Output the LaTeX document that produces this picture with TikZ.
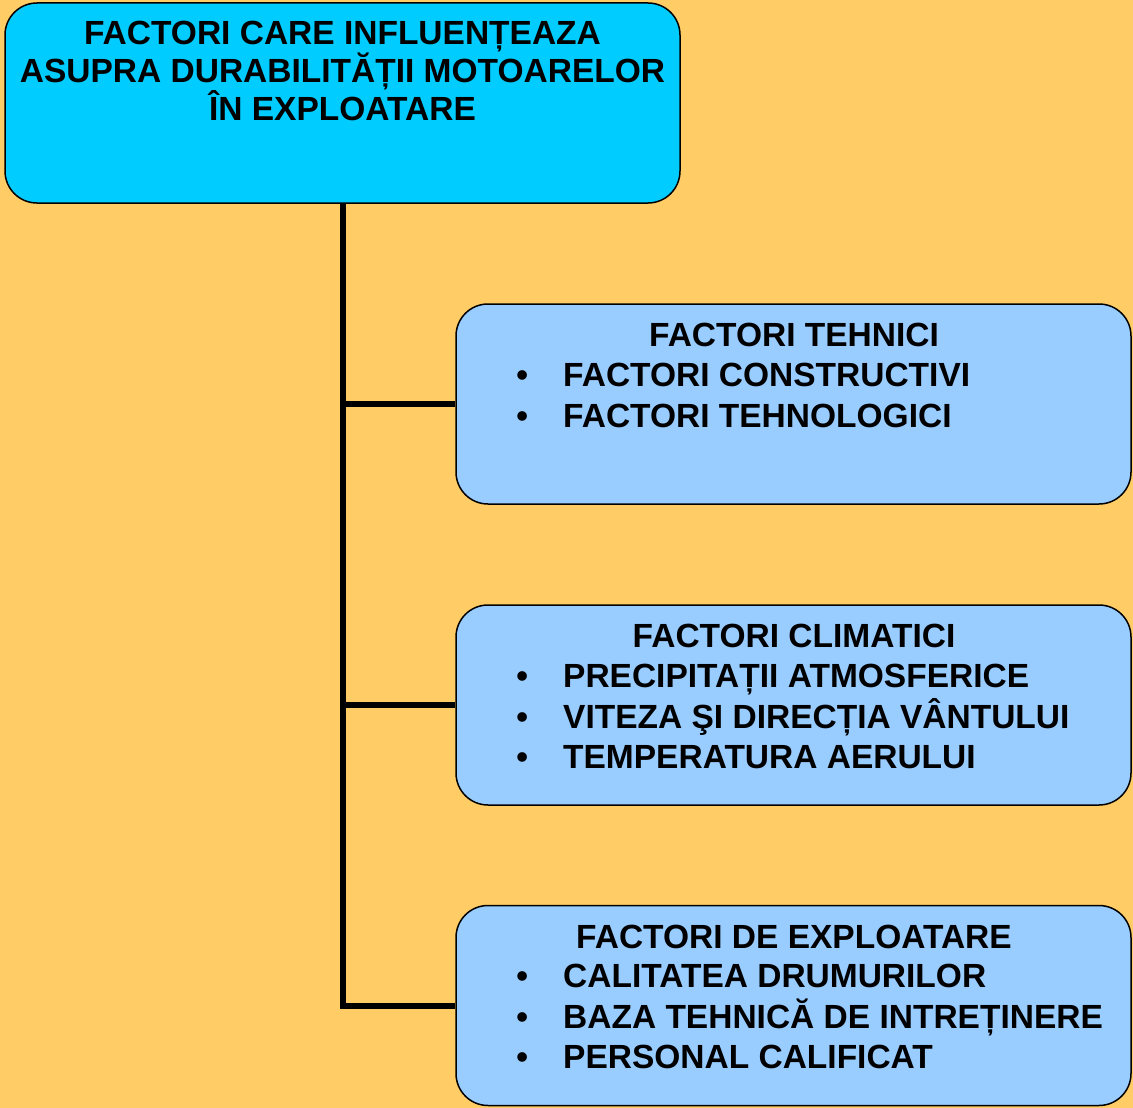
\documentclass[tikz,border=0pt]{standalone}
\usepackage{fontspec}
\setmainfont{Liberation Sans}
\usepackage{tikz}
\definecolor{bgorange}{HTML}{FFCC66}
\definecolor{titlecyan}{HTML}{00CCFF}
\definecolor{factorblue}{HTML}{99CCFF}
\newcommand{\bul}{\llap{\textbullet\hspace{35pt}}}

\begin{document}
\begin{tikzpicture}[x=1pt, y=-1pt,
  factorbox/.style={draw, line width=1.5pt, rounded corners=32pt, minimum width=675pt, minimum height=200pt, inner sep=0pt},
  bigtext/.style={font=\fontsize{33.5}{40.5}\selectfont\bfseries, inner sep=0pt},
  heading/.style={bigtext, anchor=base},
  itemlist/.style={bigtext, anchor=north west, align=left},
  branch/.style={line width=6pt},
]
  \fill[bgorange] (0,0) rectangle (1133,1108);

  % boxes
  \node[factorbox, fill=titlecyan] (title) at (342.5,103) {};
  \node[factorbox, fill=factorblue] (tehnic) at (793.5,404) {};
  \node[factorbox, fill=factorblue] (climatic) at (793.5,705) {};
  \node[factorbox, fill=factorblue] (exploat) at (793.5,1005.5) {};

  % texts
  \node[bigtext, anchor=north, align=center, font=\fontsize{33.5}{38}\selectfont\bfseries] (titletxt) at (342.5,21)
    {FACTORI CARE INFLUENȚEAZA\\ASUPRA DURABILITĂȚII MOTOARELOR\\ÎN EXPLOATARE};

  \node[heading] (tehnichead) at (794,346) {FACTORI TEHNICI};
  \node[itemlist] (tehniclist) at (563,363)
    {\bul FACTORI CONSTRUCTIVI\\\bul FACTORI TEHNOLOGICI};

  \node[heading] (climatichead) at (794,647) {FACTORI CLIMATICI};
  \node[itemlist] (climaticlist) at (563,664)
    {\bul PRECIPITAȚII ATMOSFERICE\\\bul VITEZA ŞI DIRECȚIA VÂNTULUI\\\bul TEMPERATURA AERULUI};

  \node[heading] (exploathead) at (794,948) {FACTORI DE EXPLOATARE};
  \node[itemlist] (exploatlist) at (563,964)
    {\bul CALITATEA DRUMURILOR\\\bul BAZA TEHNICĂ DE INTREȚINERE\\\bul PERSONAL CALIFICAT};

  % connectors
  \draw[branch] (title.south) |- (exploat.west);
  \draw[branch] (title.south |- tehnic.west) -- (tehnic.west);
  \draw[branch] (title.south |- climatic.west) -- (climatic.west);
\end{tikzpicture}
\end{document}
